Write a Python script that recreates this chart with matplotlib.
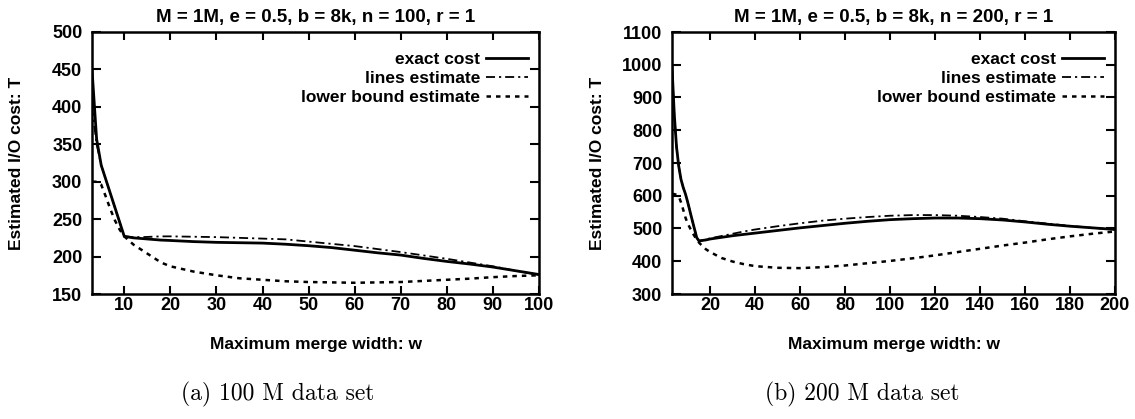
import matplotlib
matplotlib.use("Agg")
import matplotlib.pyplot as plt
from matplotlib.ticker import FixedLocator

plt.rcParams["font.family"] = ["Liberation Sans", "DejaVu Sans"]
plt.rcParams["font.weight"] = "bold"
plt.rcParams["axes.labelweight"] = "bold"
plt.rcParams["axes.titleweight"] = "bold"

# ---- n = 100 ----
w_100 = [3, 4, 5, 6, 7, 8, 9, 10, 12, 14, 16, 18, 20, 25, 30, 35, 40, 45, 50,
         55, 60, 65, 70, 75, 80, 85, 90, 95, 100]
exact_100 = [450, 357, 322, 303, 284, 265, 246, 227, 225, 224, 223, 222, 221.5,
             220, 219, 218.5, 218, 216.5, 214.5, 212, 208.5, 205, 202, 197.5,
             193.5, 190, 186, 181, 176]
lines_100 = [400, 350, 322, 303, 284, 265, 246, 227, 226, 226, 226.5, 227, 227,
             226.5, 226, 225, 224, 223, 220, 217, 214, 210, 206, 201.5, 197,
             192, 187, 181, 175.5]
lower_100 = [300, 300, 296, 280, 263, 248, 236, 227, 216, 208, 200, 192, 187,
             180, 175, 171, 169, 167, 166, 165.5, 165, 165.5, 166, 167.5, 169,
             170.5, 172.5, 174, 175]

# ---- n = 200 ----
w_200 = [3, 4, 5, 6, 7, 8, 9, 10, 12, 14, 15, 16, 18, 20, 25, 30, 35, 40, 50,
         60, 70, 80, 90, 100, 110, 120, 130, 140, 150, 160, 170, 180, 190, 200]
exact_200 = [995, 850, 750, 690, 650, 625, 605, 580, 525, 472, 462, 463, 465,
             468, 473, 478, 482, 486, 494, 502, 509, 516, 522, 527, 530, 532,
             532, 530, 526, 520, 513, 507, 502, 497]
lines_200 = [990, 850, 750, 690, 650, 625, 605, 580, 525, 472, 462, 463.5,
             466.5, 470, 477, 484, 491, 497, 507, 516, 524, 530, 535, 539, 541,
             541, 539, 535, 530, 522, 515, 508, 502, 497]
lower_200 = [605, 605, 603, 598, 580, 557, 533, 515, 488, 466, 457, 450, 437,
             428, 410, 399, 391, 385, 380, 379, 382, 387, 394, 401, 409, 418,
             428, 438, 448, 457, 467, 476, 484, 491]

series_labels = ["exact cost", "lines estimate", "lower bound estimate"]
titles = ["M = 1M, e = 0.5, b = 8k, n = 100, r = 1",
          "M = 1M, e = 0.5, b = 8k, n = 200, r = 1"]
captions = ["(a) 100 M data set", "(b) 200 M data set"]
xticks_100 = [10, 20, 30, 40, 50, 60, 70, 80, 90, 100]
yticks_100 = [150, 200, 250, 300, 350, 400, 450, 500]
xticks_200 = [20, 40, 60, 80, 100, 120, 140, 160, 180, 200]
yticks_200 = [300, 400, 500, 600, 700, 800, 900, 1000, 1100]

W, H = 1135, 419
fig = plt.figure(figsize=(W / 100, H / 100), dpi=100)

def px_axes(x0, x1, y0, y1):
    return fig.add_axes([x0 / W, 1 - y1 / H, (x1 - x0) / W, (y1 - y0) / H])

ax1 = px_axes(92, 539, 32, 294)
ax2 = px_axes(672, 1115, 32, 294)

styles = [
    dict(color="black", lw=2.0, ls="-"),
    dict(color="black", lw=1.3, ls=(0, (5, 2.2, 1.2, 2.2))),
    dict(color="black", lw=1.8, ls=(0, (1.8, 2.0))),
]

panels = [
    (ax1, w_100, [exact_100, lines_100, lower_100], (3, 100), (150, 500),
     xticks_100, yticks_100),
    (ax2, w_200, [exact_200, lines_200, lower_200], (3, 200), (300, 1100),
     xticks_200, yticks_200),
]

FS = 12.5
for i, (ax, w, ys, xl, yl, xt, yt) in enumerate(panels):
    for y, lab, st in zip(ys, series_labels, styles):
        ax.plot(w, y, label=lab, **st)
    ax.set_xlim(*xl)
    ax.set_ylim(*yl)
    ax.xaxis.set_major_locator(FixedLocator(xt))
    ax.yaxis.set_major_locator(FixedLocator(yt))
    ax.tick_params(direction="in", width=1.5, top=True, right=True,
                   labelsize=13)
    ax.tick_params(axis="x", length=5.5, pad=2.5)
    ax.tick_params(axis="y", length=6.5, pad=7)
    for s in ax.spines.values():
        s.set_linewidth(1.8)
    ax.set_title(titles[i], fontsize=13.5, pad=7)
    ax.set_xlabel("Maximum merge width: w", fontsize=FS)
    ax.set_ylabel("Estimated I/O cost: T", fontsize=FS)
    ax.xaxis.set_label_coords(0.5, -0.165)
    ax.yaxis.set_label_coords(-0.152, 0.5)
    ax.legend(loc="upper right", frameon=False, markerfirst=False,
              fontsize=FS, handlelength=2.4, handletextpad=0.35,
              labelspacing=0.22, borderpad=0, borderaxespad=0,
              bbox_to_anchor=(0.975, 0.925))

fig.text(278 / W, 1 - 394 / H, captions[0], family="cmr10", fontsize=17,
         fontweight="normal", ha="center", va="center")
fig.text(862 / W, 1 - 394 / H, captions[1], family="cmr10", fontsize=17,
         fontweight="normal", ha="center", va="center")

fig.savefig("out.png", dpi=100)
